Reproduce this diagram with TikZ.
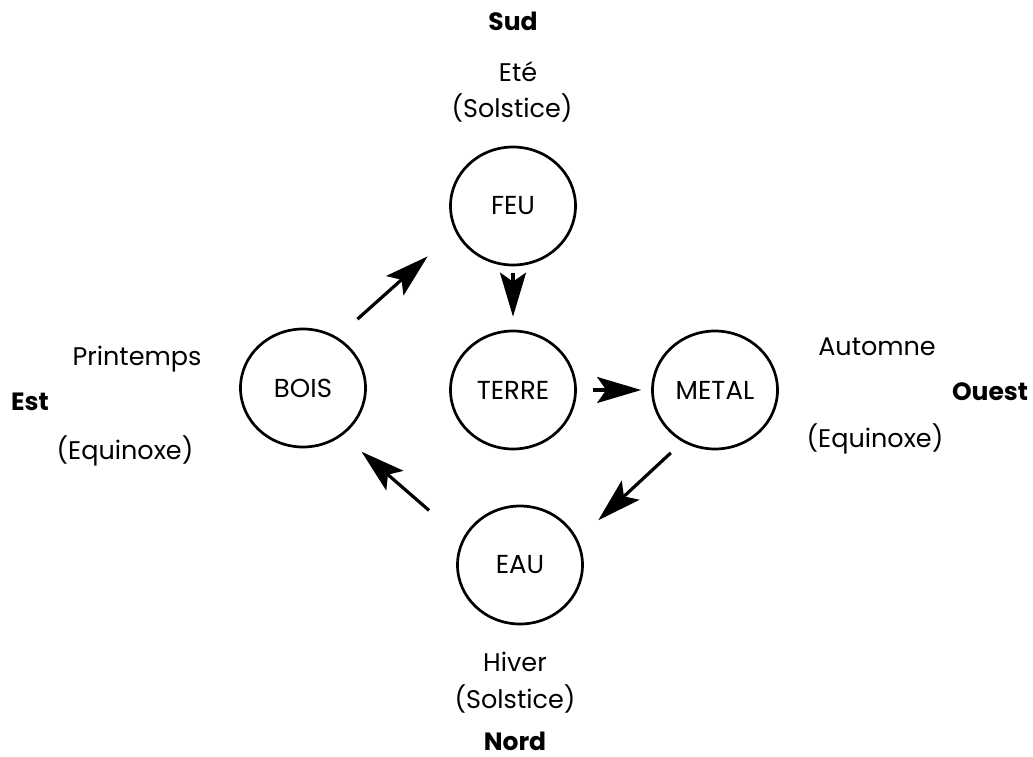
\documentclass[tikz,border=0pt]{standalone}
\usepackage{fontspec}
\setmainfont{Poppins}
\usetikzlibrary{arrows.meta,shapes.geometric}

\begin{document}
\begin{tikzpicture}[x=1pt,y=-1pt,
elemnode/.style={ellipse, draw=black, line width=2.7pt, minimum width=125pt, minimum height=118pt, inner sep=0pt, font=\fontsize{26}{30}\selectfont},
labelnode/.style={anchor=base, inner sep=0pt, font=\fontsize{25.5}{30}\selectfont},
pointnode/.style={anchor=base, inner sep=0pt, font=\fontsize{25}{30}\selectfont\bfseries},
flow/.style={line width=3.2pt, -{Stealth[length=44pt, width=26pt, inset=9pt]}}
]
\useasboundingbox (0,0) rectangle (1033,757);

\node [elemnode] (feu) at (513,206) {FEU};
    
    \node [elemnode] (bois) at (303,388) {BOIS};
    \node [elemnode] (terre) at (513,390) {TERRE};
    \node [elemnode] (metal) at (715,390) {METAL};
    
    \node [elemnode] (eau) at (520,565) {EAU};
    
    \node [pointnode] (sud) at (513,31) {Sud};
    \node [labelnode] (ete) at (518,82) {Eté};
    \node [labelnode] (solsticeh) at (512,118) {(Solstice)};
    
    \node [labelnode] (hiver) at (515,671) {Hiver};
    \node [labelnode] (solsticeb) at (515,708) {(Solstice)};
    \node [pointnode] (nord) at (515,750) {Nord};
    
    \node [labelnode] (printemps) at (137,365) {Printemps};
    \node [pointnode] (est) at (30,410) {Est};
    \node [labelnode] (equinoxeg) at (125,459) {(Equinoxe)};
    
    \node [labelnode] (automne) at (877,355) {Automne};
    \node [pointnode] (ouest) at (990,400) {Ouest};
    \node [labelnode] (equinoxed) at (875,447) {(Equinoxe)};
    
    \draw [flow, shorten <=27pt, shorten >=37pt] (bois.56) -- (feu.204);
    \draw [flow, shorten <=7pt, shorten >=13pt] (feu.south) -- (terre.north);
    \draw [flow, shorten <=16pt, shorten >=10pt] (terre.east) -- (metal.west);
    \draw [flow, shorten <=16pt, shorten >=28pt] (metal.238) -- (eau.24);
    \draw [flow, shorten <=44pt, shorten >=25pt] (eau.156) -- (bois.310);
    \end{tikzpicture}
\end{document}
